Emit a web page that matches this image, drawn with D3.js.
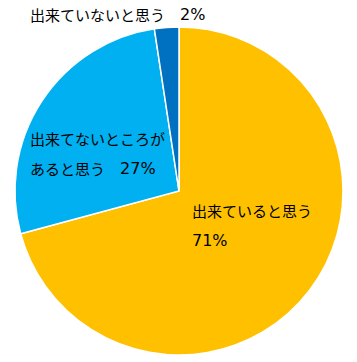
<!DOCTYPE html>
<html><head><meta charset="utf-8">
<script src="https://cdn.jsdelivr.net/npm/d3@7"></script>
<style>body{margin:0;background:#fff}svg{display:block}</style>
</head><body>
<svg id="c" width="357" height="362"></svg>
<script>
const categories = ["出来ていると思う", "出来てないところがあると思う", "出来ていないと思う"];
const values = [70.8, 26.8, 2.4];
const colors = ["#FFC000", "#00B0F0", "#0070C0"];
const labelLines = [
  ["出来ていると思う", "{p}"],
  ["出来てないところが", "あると思う　{p}"],
  ["出来ていないと思う　{p}"]
];
const labelPos = [[192, 210], [30, 138], [30, 14]];

const svg = d3.select("#c");
const cx = 179, cy = 191, r = 164;
const pie = d3.pie().sort(null).value(d => d)(values);
const arc = d3.arc().innerRadius(0).outerRadius(r);
const g = svg.append("g").attr("transform", `translate(${cx},${cy})`);
g.selectAll("path").data(pie).join("path")
  .attr("d", arc)
  .attr("fill", (d, i) => colors[i])
  .attr("stroke", "#fff").attr("stroke-width", 1.5);

const font = "'Noto Sans CJK JP', 'Noto Sans', sans-serif";
const total = d3.sum(values);
labelLines.forEach((lines, i) => {
  const p = Math.round(values[i] / total * 100) + "%";
  lines.forEach((t, j) => {
    const txt = svg.append("text")
      .attr("x", labelPos[i][0])
      .attr("y", labelPos[i][1] + j * 30)
      .attr("dominant-baseline", "central")
      .attr("font-family", font)
      .attr("font-size", 15)
      .attr("fill", "#000");
    const parts = t.split("{p}");
    txt.append("tspan").text(parts[0]);
    if (parts.length > 1) {
      txt.append("tspan")
        .attr("font-family", "'DejaVu Sans', sans-serif")
        .attr("font-size", 16)
        .text(p);
    }
  });
});
</script>
</body></html>
